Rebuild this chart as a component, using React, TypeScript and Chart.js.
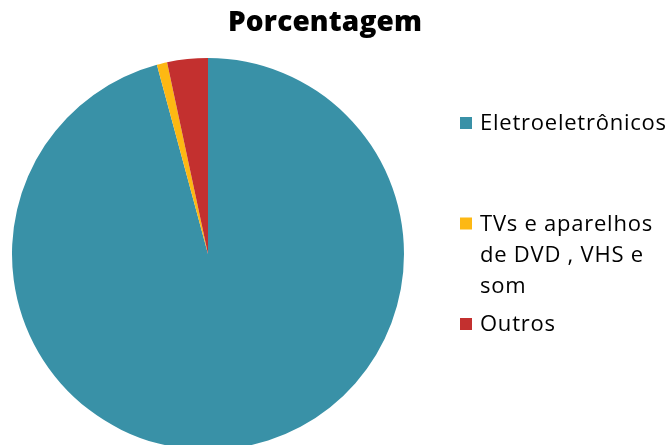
import React, { useEffect, useRef } from "react";
import { Chart, registerables } from "chart.js";

Chart.register(...registerables);

const categories = ["Eletroeletrônicos", "TVs e aparelhos de DVD , VHS e som", "Outros"];
const legendLines = [["Eletroeletrônicos"], ["TVs e aparelhos", "de DVD , VHS e", "som"], ["Outros"]];
const values = [95.8, 0.85, 3.35];
const colors = ["#3991A7", "#FDB813", "#C3302F"];
const titleText = "Porcentagem";

const FONT = "'Open Sans', Lato, sans-serif";

function spacingFor(ctx: CanvasRenderingContext2D, text: string, target: number) {
  (ctx as any).letterSpacing = "0px";
  const w = ctx.measureText(text).width;
  const n = Math.max(1, text.length - 1);
  return Math.max(0, (target - w) / n);
}

const customDraw = {
  id: "customDraw",
  afterDraw(chart: any) {
    const ctx = chart.ctx as CanvasRenderingContext2D;
    ctx.save();
    // title
    ctx.fillStyle = "#000";
    ctx.font = `800 28px ${FONT}`;
    const ts = spacingFor(ctx, titleText, 194);
    (ctx as any).letterSpacing = ts + "px";
    ctx.textAlign = "left";
    ctx.textBaseline = "middle";
    ctx.fillText(titleText, 228, 23);
    // legend
    ctx.font = `22px ${FONT}`;
    const ls = spacingFor(ctx, legendLines[0][0], 186);
    (ctx as any).letterSpacing = ls + "px";
    const x0 = 460;
    const lineH = 31;
    const startY = 123;
    const step = 100.5;
    legendLines.forEach((lines, i) => {
      const y = startY + i * step;
      ctx.fillStyle = colors[i];
      ctx.fillRect(x0, y - 6, 12, 12);
      ctx.fillStyle = "#000";
      lines.forEach((ln, j) => {
        ctx.fillText(ln, x0 + 20, y + j * lineH + 1);
      });
    });
    ctx.restore();
  },
};

export default function App() {
  const ref = useRef<HTMLCanvasElement | null>(null);
  useEffect(() => {
    if (!ref.current) return;
    const chart = new Chart(ref.current, {
      type: "pie",
      data: {
        labels: categories,
        datasets: [
          {
            data: values,
            backgroundColor: colors,
            borderWidth: 0,
          },
        ],
      },
      options: {
        responsive: false,
        animation: false,
        layout: { padding: { left: 12, top: 58, right: 265, bottom: 2 } },
        plugins: {
          legend: { display: false },
          title: { display: false },
          tooltip: { enabled: false },
        },
      },
      plugins: [customDraw],
    });
    return () => chart.destroy();
  }, []);
  return (
    <div style={{ position: "fixed", left: 0, top: 0, width: 669, height: 445, overflow: "hidden", background: "#fff" }}>
      <canvas ref={ref} width={669} height={452} style={{ display: "block", width: 669, height: 452 }} />
    </div>
  );
}
